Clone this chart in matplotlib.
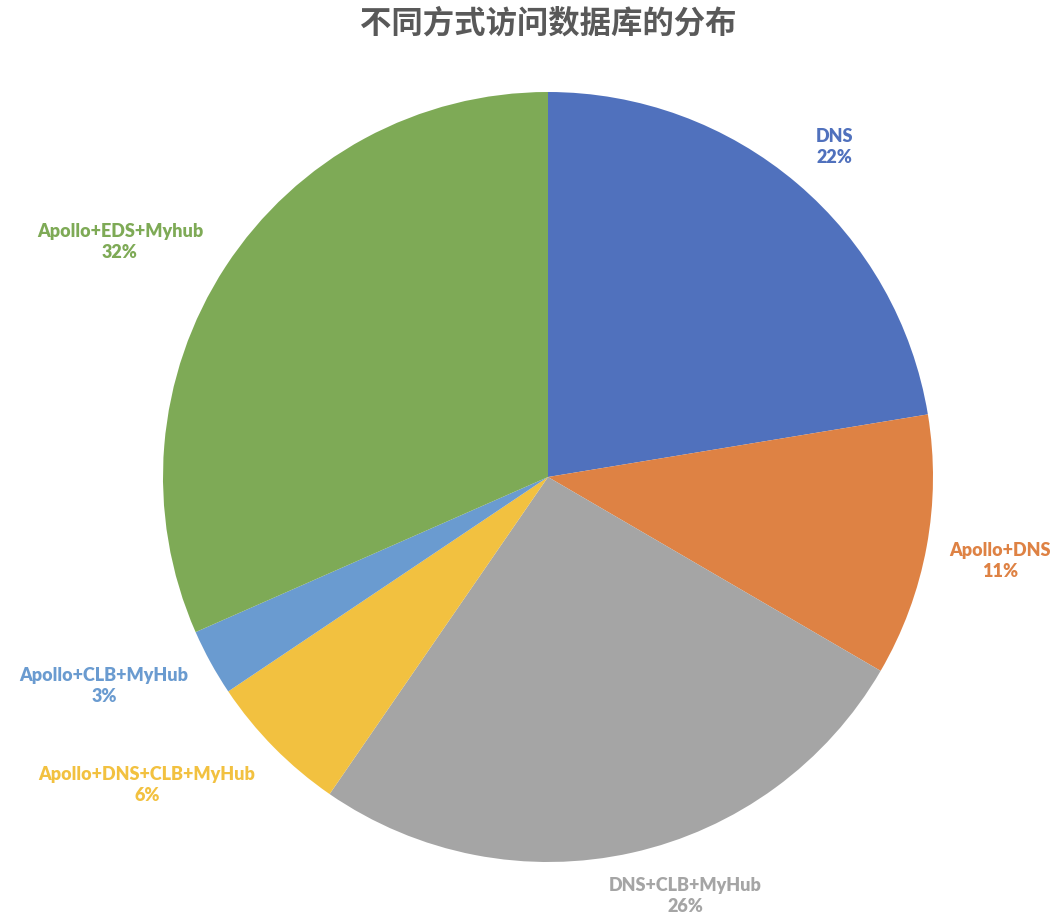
import matplotlib.pyplot as plt

plt.rcParams['font.family'] = ['Lato', 'DejaVu Sans']

# data
categories = ['DNS', 'Apollo+DNS', 'DNS+CLB+MyHub', 'Apollo+DNS+CLB+MyHub',
              'Apollo+CLB+MyHub', 'Apollo+EDS+Myhub']
shares = [22.4, 11.0, 26.2, 6.0, 2.8, 31.6]

colors = ['#5071BD', '#DE8244', '#A5A5A5', '#F2C140', '#6A9BD0', '#7EAA56']
# label anchors in units of the pie radius (layout only)
label_pos = [(0.745, 0.857), (1.174, -0.218), (0.356, -1.088),
             (-1.042, -0.800), (-1.153, -0.543), (-1.112, 0.610)]

W, H = 1062, 922
cx, cy, R = 548, 477, 385  # pie centre and radius in pixels

fig = plt.figure(figsize=(W / 100, H / 100), dpi=100)
ax = fig.add_axes([0, 0, 1, 1])

ax.pie(shares, colors=colors, startangle=90, counterclock=False,
       wedgeprops=dict(linewidth=0))

for name, val, col, (lx, ly) in zip(categories, shares, colors, label_pos):
    ax.text(lx, ly, f'{name}\n{round(val)}%', ha='center', va='center',
            color=col, fontsize=13, fontweight='heavy', linespacing=1.3)

ax.set_aspect('auto')
ax.set_xlim(-cx / R, (W - cx) / R)
ax.set_ylim(-(H - cy) / R, cy / R)
ax.axis('off')

fig.text(0.516, 1 - 24 / H, '不同方式访问数据库的分布', ha='center', va='center',
         fontsize=22.6, fontweight='bold', color='#595959',
         family=['Noto Sans CJK SC', 'DejaVu Sans'])

fig.savefig('out.png', dpi=100, facecolor='white')
